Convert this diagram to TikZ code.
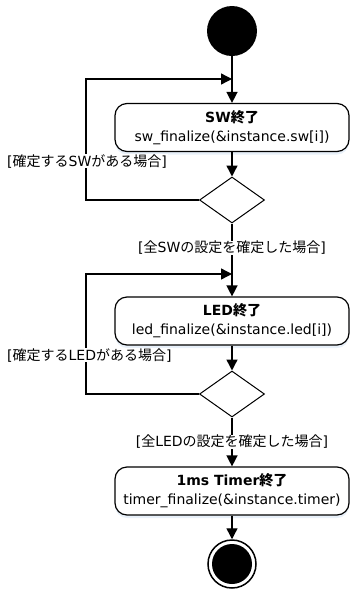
\documentclass[tikz,border=0pt]{standalone}
\usepackage{fontspec}
\setmainfont{DejaVu Sans}
\newfontfamily\jafont{Noto Sans CJK JP}
\newcommand{\ja}[1]{{\jafont #1}}
\usetikzlibrary{positioning,arrows.meta,shapes.geometric,shadows}
\definecolor{shade}{HTML}{D2E2F4}

\begin{document}
\begin{tikzpicture}[x=1pt,y=1pt,font=\fontsize{14}{19}\selectfont]
    \tikzstyle{action}=[draw, line width=1.2pt, rounded corners=12pt, minimum width=234pt, minimum height=48pt, align=center, fill=white, on grid, drop shadow={fill=shade, shadow xshift=0pt, shadow yshift=-3pt}]
    \tikzstyle{branch}=[draw, diamond, aspect=1.4, minimum width=65pt, minimum height=46pt, inner sep=0pt, line width=1pt, fill=white, on grid]
    \tikzstyle{guard}=[fill=white, inner xsep=1pt, inner ysep=0pt, on grid]
    \tikzstyle{startdot}=[circle, fill=black, minimum size=50pt, inner sep=0pt]
    \tikzstyle{enddot}=[circle, draw, line width=1.5pt, minimum size=48pt, inner sep=0pt, on grid, path picture={\fill (path picture bounding box.center) circle (20pt);}]
    \tikzstyle{flow}=[line width=1.4pt, -{Triangle[length=11pt,width=11pt]}]
    \useasboundingbox (0,0) rectangle (350,-590);

    % SW
    \node[startdot] (start) at (232,-31) {};
    \coordinate (swloop) at (232,-79);
    \node[action, below=96.5pt of start] (swend) {\textbf{SW\ja{終了}}\\sw\_finalize(\&instance.sw[i])};
    \node[branch, below=72.5pt of swend] (swq) {};

    % LED
    \coordinate (ledloop) at (232,-274);
    \node[action, below=121pt of swq] (ledend) {\textbf{LED\ja{終了}}\\led\_finalize(\&instance.led[i])};
    \node[branch, below=73pt of ledend] (ledq) {};

    % Timer
    \node[action, below=97pt of ledq] (timerend) {\textbf{1ms Timer\ja{終了}}\\timer\_finalize(\&instance.timer)};
    \node[enddot, below=73pt of timerend] (end) {};

    \draw[flow] (start) -- (swend);
    \draw[flow] (swend) -- (swq);
    \draw[flow] (swq) -- (ledend);
    \draw[flow] (ledend) -- (ledq);
    \draw[flow] (ledq) -- (timerend);
    \draw[flow] (timerend) -- (end);

    \draw[flow] (swq.west) -- +(-113pt,0pt) |- (swloop);
    \draw[flow] (ledq.west) -- +(-113pt,0pt) |- (ledloop);

    % guards
    \node[guard, anchor=west] (swmore) at (6,-161) {[\ja{確定する}SW\ja{がある場合}]};
    \node[guard, below=48pt of swq] (swdone) {[\ja{全}SW\ja{の設定を確定した場合}]};
    \node[guard, anchor=west] (ledmore) at (6,-355) {[\ja{確定する}LED\ja{がある場合}]};
    \node[guard, below=48pt of ledq] (leddone) {[\ja{全}LED\ja{の設定を確定した場合}]};
\end{tikzpicture}
\end{document}
